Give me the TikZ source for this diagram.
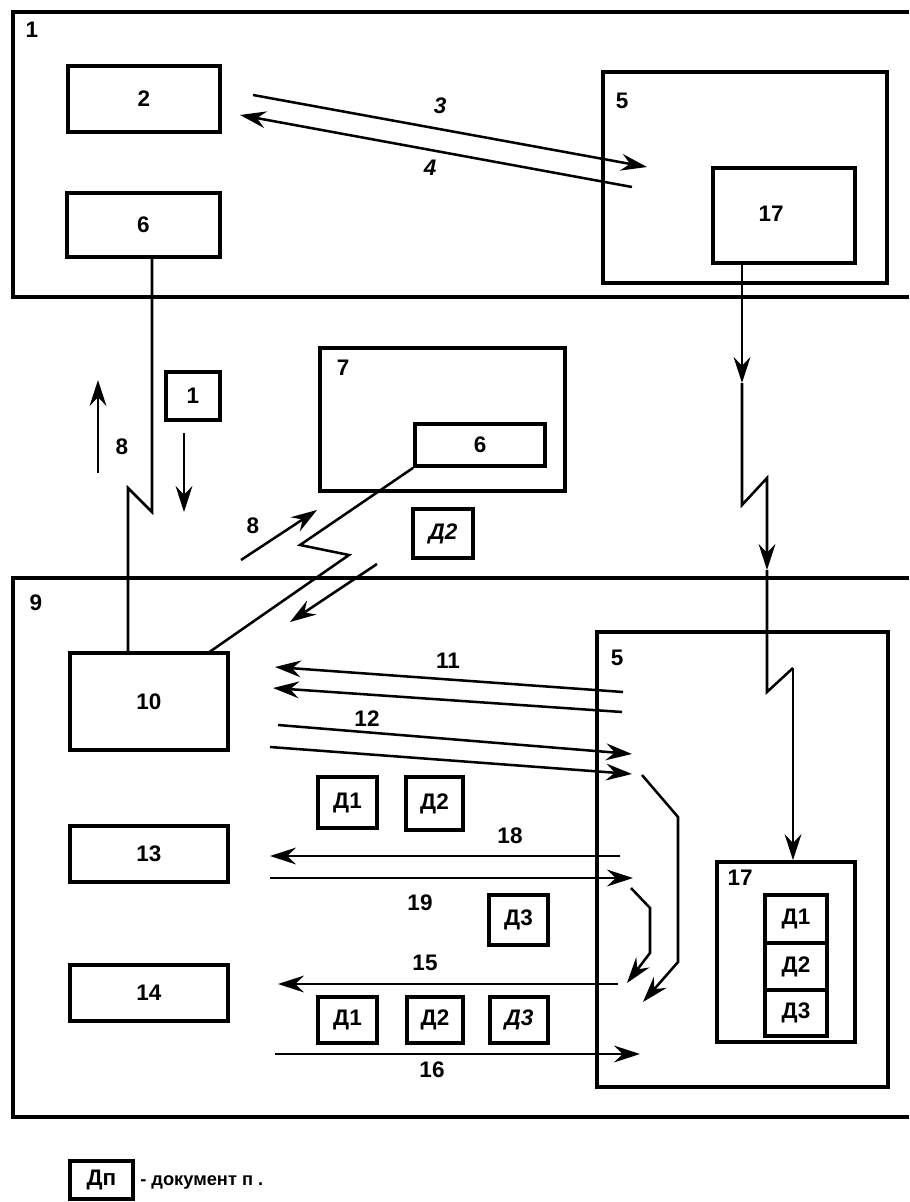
\documentclass[tikz,border=0pt]{standalone}
\usepackage{fontspec}
\setmainfont{Liberation Sans}
\usetikzlibrary{arrows.meta,fit}
\begin{document}
\begin{tikzpicture}[x=0.25mm,y=-0.25mm,
 box/.style={draw, line width=2.6pt, inner sep=0pt},
 frame/.style={line width=2.6pt},
 conn/.style={line width=1.8pt},
 arr/.style={conn, -{Stealth[length=6.5mm,width=4.2mm,inset=2.2mm]}},
 lbl/.style={font=\fontsize{16}{18}\selectfont\bfseries, inner sep=0pt},
 ilbl/.style={font=\fontsize{16}{18}\selectfont\bfseries\itshape, inner sep=0pt}]
\useasboundingbox (0,0) rectangle (909,1202);

% outer containers
\draw[frame] (909,12) -- (13,12) -- (13,297) -- (909,297);
\node[lbl] (l1) at (32,30) {1};
\draw[frame] (909,578) -- (13,578) -- (13,1117) -- (909,1117);
\node[lbl] (l9) at (36,603) {9};

% top region boxes
\node[box, fit={(68,66)(220,132)}] (b2) {};
\node[lbl] at (b2.center) {2};
\node[box, fit={(67,193)(220,257)}] (b6) {};
\node[lbl] at (b6.center) {6};
\node[box, fit={(603,72)(887,283)}] (b5t) {};
\node[lbl] (l5t) at (622,101) {5};
\node[box, fit={(713,168)(855,263)}] (b17t) {};
\node[lbl] (l17t) at (771,214) {17};

% arrows 3 and 4
\coordinate (a3s) at (253,95);
\coordinate (a3e) at (647,167);
\draw[arr] (a3s) -- (a3e);
\node[ilbl] (l3) at (440,106) {3};
\coordinate (a4s) at (632,187);
\coordinate (a4e) at (240,115);
\draw[arr] (a4s) -- (a4e);
\node[ilbl] (l4) at (430,168) {4};

% middle region
\node[box, fit={(166,372)(220,420)}] (b1s) {};
\node[lbl] at (b1s.center) {1};
\node[box, fit={(320,348)(565,491)}] (b7) {};
\node[lbl] (l7) at (343,368) {7};
\node[box, fit={(415,424)(545,466)}] (b6b) {};
\node[lbl] at (b6b.center) {6};
\node[box, fit={(413,509)(473,558)}] (bD2a) {};
\node[ilbl] at (bD2a.center) {Д2};

\coordinate (u8s) at (98,473);
\coordinate (u8e) at (98,380);
\draw[arr] (u8s) -- (u8e);
\node[lbl] (l8a) at (122,447) {8};
\coordinate (d1s) at (184,433);
\coordinate (d1e) at (184,512);
\draw[arr] (d1s) -- (d1e);

\coordinate (r8s) at (241,560);
\coordinate (r8e) at (317,510);
\draw[arr] (r8s) -- (r8e);
\node[lbl] (l8b) at (253,526) {8};
\coordinate (dls) at (377,564);
\coordinate (dle) at (290,622);
\draw[arr] (dls) -- (dle);

% lower region boxes
\node[box, fit={(70,653)(228,750)}] (b10) {};
\node[lbl] at (b10.center) {10};
\node[box, fit={(70,826)(228,882)}] (b13) {};
\node[lbl] at (b13.center) {13};
\node[box, fit={(70,965)(228,1021)}] (b14) {};
\node[lbl] at (b14.center) {14};
\node[box, fit={(597,632)(888,1087)}] (b5b) {};
\node[lbl] (l5b) at (617,658) {5};
\node[box, fit={(717,862)(855,1042)}] (b17b) {};
\node[lbl] (l17b) at (740,878) {17};
\node[box, fit={(765,895)(827,943)}] (s1) {};
\node[lbl] at (s1.center) {Д1};
\node[box, fit={(765,943)(827,990)}] (s2) {};
\node[lbl] at (s2.center) {Д2};
\node[box, fit={(765,990)(827,1036)}] (s3) {};
\node[lbl] at (s3.center) {Д3};

\node[box, fit={(318,777)(377,828)}] (dA1) {};
\node[lbl] at (dA1.center) {Д1};
\node[box, fit={(406,777)(463,830)}] (dA2) {};
\node[lbl] at (dA2.center) {Д2};
\node[box, fit={(489,895)(548,945)}] (dB3) {};
\node[lbl] at (dB3.center) {Д3};
\node[box, fit={(318,997)(377,1043)}] (dC1) {};
\node[lbl] at (dC1.center) {Д1};
\node[box, fit={(407,997)(463,1043)}] (dC2) {};
\node[lbl] at (dC2.center) {Д2};
\node[box, fit={(490,997)(548,1043)}] (dC3) {};
\node[ilbl] at (dC3.center) {Д3};

% link 6 (top) -> 10
\coordinate (z1) at (152,512);
\coordinate (z2) at (128,488);
\draw[conn] (b6.south -| z1) -- (z1) -- (z2) -- (z2 |- b10.north);

% link 6 (in 7) -> 10
\coordinate (y1) at (300,545);
\coordinate (y2) at (349,555);
\coordinate (y3) at (208,653);
\draw[conn] (b6b.south west) -- (y1) -- (y2) -- (y3);

% link 17 (top) -> 17 (bottom)
\coordinate (v1) at (742,383);
\coordinate (v2) at (742,505);
\coordinate (v3) at (767,478);
\coordinate (v4) at (767,570);
\coordinate (v5) at (767,692);
\coordinate (v6) at (793,668);
\draw[arr] (b17t.south -| v1) -- (v1);
\draw[arr] (v1) -- (v2) -- (v3) -- (v4);
\draw[conn] (v4) -- (v5) -- (v6);
\draw[arr] (v6) -- (v6 |- b17b.north);

% arrows 11
\coordinate (a11s) at (623,692);
\coordinate (a11e) at (275,667);
\draw[arr] (a11s) -- (a11e);
\coordinate (b11s) at (622,712);
\coordinate (b11e) at (273,688);
\draw[arr] (b11s) -- (b11e);
\node[lbl] (l11) at (448,661) {11};
% arrows 12
\coordinate (a12s) at (278,725);
\coordinate (a12e) at (632,754);
\draw[arr] (a12s) -- (a12e);
\coordinate (b12s) at (270,747);
\coordinate (b12e) at (632,774);
\draw[arr] (b12s) -- (b12e);
\node[lbl] (l12) at (367,719) {12};
% arrow 18
\coordinate (a18s) at (620,856);
\coordinate (a18e) at (270,856);
\draw[arr] (a18s) -- (a18e);
\node[lbl] (l18) at (510,836) {18};
% arrow 19
\coordinate (a19s) at (270,878);
\coordinate (a19e) at (633,878);
\draw[arr] (a19s) -- (a19e);
\node[lbl] (l19) at (420,903) {19};
% arrow 15
\coordinate (a15s) at (618,984);
\coordinate (a15e) at (278,984);
\draw[arr] (a15s) -- (a15e);
\node[lbl] (l15) at (425,963) {15};
% arrow 16
\coordinate (a16s) at (275,1054);
\coordinate (a16e) at (640,1054);
\draw[arr] (a16s) -- (a16e);
\node[lbl] (l16) at (432,1070) {16};

% bent arrows inside 5
\coordinate (k1) at (642,775);
\coordinate (k2) at (678,817);
\coordinate (k3) at (678,962);
\coordinate (k4) at (643,1002);
\draw[arr] (k1) -- (k2) -- (k3) -- (k4);
\coordinate (m1) at (631,888);
\coordinate (m2) at (650,908);
\coordinate (m3) at (650,953);
\coordinate (m4) at (627,983);
\draw[arr] (m1) -- (m2) -- (m3) -- (m4);

% legend
\node[box, fit={(70,1161)(133,1199)}] (leg) {};
\node[lbl] at (leg.center) {Дп};
\node[anchor=west, inner sep=0pt, font=\fontsize{13}{15}\selectfont\bfseries] (legt) at (140,1182) {- документ п .};
\end{tikzpicture}
\end{document}
